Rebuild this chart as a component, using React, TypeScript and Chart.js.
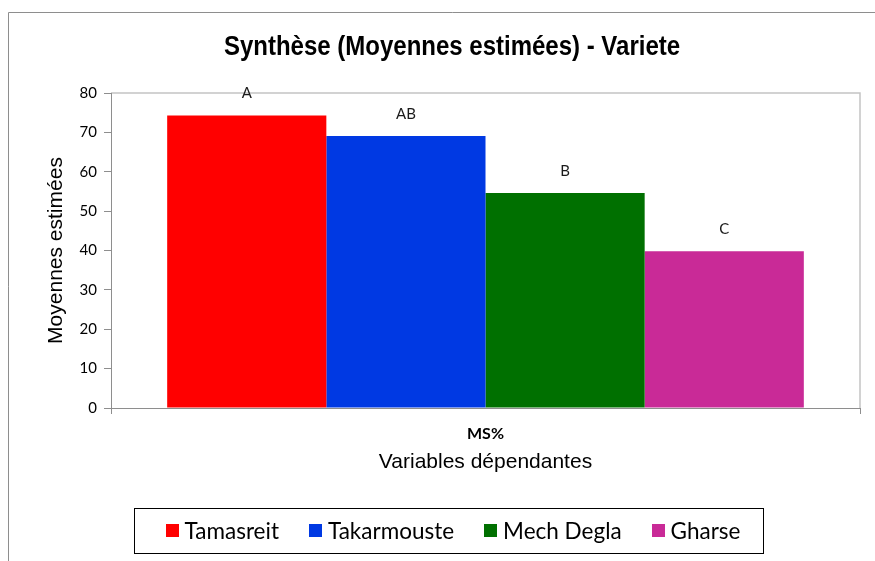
import React, { useEffect, useRef } from "react";
import { Chart, registerables } from "chart.js";

Chart.register(...registerables);

const chartTitle = "Synthèse (Moyennes estimées) - Variete";
const yAxisTitle = "Moyennes estimées";
const xAxisTitle = "Variables dépendantes";
const categories = ["MS%"];
const seriesNames = ["Tamasreit", "Takarmouste", "Mech Degla", "Gharse"];
const tamasreitValues = [74.3];
const takarmousteValues = [69.1];
const mechDeglaValues = [54.6];
const gharseValues = [39.8];
const groupLetters = ["A", "AB", "B", "C"];
const seriesColors = ["#FF0000", "#0039E3", "#007000", "#C92A97"];
const yTickValues = [0, 10, 20, 30, 40, 50, 60, 70, 80];

const SANS = "'Liberation Sans', Arial, sans-serif";
const CAL = "Lato, 'Open Sans', sans-serif";

const framePlugin = {
  id: "frame",
  beforeDraw(chart: any) {
    const { ctx, width, height, chartArea } = chart;
    ctx.save();
    ctx.fillStyle = "#ffffff";
    ctx.fillRect(0, 0, width, height);
    ctx.strokeStyle = "#8E8E8E";
    ctx.lineWidth = 1;
    ctx.beginPath();
    ctx.moveTo(0.5, height);
    ctx.lineTo(0.5, 0.5);
    ctx.lineTo(width, 0.5);
    ctx.stroke();
    // plot area top and right border
    ctx.strokeStyle = "#C4C4C4";
    ctx.lineWidth = 1.5;
    ctx.beginPath();
    ctx.moveTo(chartArea.left, chartArea.top);
    ctx.lineTo(chartArea.right, chartArea.top);
    ctx.lineTo(chartArea.right, chartArea.bottom);
    ctx.stroke();
    // title (slightly tall, like the reference)
    ctx.translate(width / 2, 35);
    ctx.scale(1, 1.16);
    ctx.font = `bold 24px ${SANS}`;
    ctx.fillStyle = "#000000";
    ctx.textAlign = "center";
    ctx.textBaseline = "middle";
    ctx.fillText(chartTitle, 0, 0);
    ctx.restore();
  },
};

const letterPlugin = {
  id: "letters",
  afterDatasetsDraw(chart: any) {
    const { ctx } = chart;
    ctx.save();
    ctx.font = `15px ${CAL}`;
    ctx.fillStyle = "#1A1A1A";
    ctx.textAlign = "center";
    ctx.textBaseline = "middle";
    chart.data.datasets.forEach((_ds: any, i: number) => {
      const meta = chart.getDatasetMeta(i);
      meta.data.forEach((bar: any) => {
        ctx.fillText(groupLetters[i], bar.x, bar.y - 22);
      });
    });
    ctx.restore();
  },
};

const legendPlugin = {
  id: "boxLegend",
  afterDraw(chart: any) {
    const { ctx } = chart;
    ctx.save();
    ctx.font = `22.5px ${CAL}`;
    const sq = 13;
    const gapText = 6;
    const gapItem = 30;
    const widths = seriesNames.map((n) => ctx.measureText(n).width);
    const content =
      widths.reduce((a, b) => a + b, 0) + seriesNames.length * (sq + gapText) + gapItem * (seriesNames.length - 1);
    const padL = 32;
    const padR = 22;
    const boxW = content + padL + padR;
    const cx = 440;
    const boxL = cx - boxW / 2;
    const boxT = 496;
    const boxH = 45;
    const cy = boxT + boxH / 2;
    ctx.strokeStyle = "#000000";
    ctx.lineWidth = 1;
    ctx.strokeRect(Math.round(boxL) + 0.5, boxT + 0.5, Math.round(boxW), boxH);
    let x = boxL + padL;
    ctx.textBaseline = "middle";
    ctx.textAlign = "left";
    seriesNames.forEach((n, i) => {
      ctx.fillStyle = seriesColors[i];
      ctx.fillRect(Math.round(x), Math.round(cy - sq / 2), sq, sq);
      x += sq + gapText;
      ctx.fillStyle = "#000000";
      ctx.fillText(n, x, cy + 1);
      x += widths[i] + gapItem;
    });
    ctx.restore();
  },
};

export default function App() {
  const ref = useRef<HTMLCanvasElement | null>(null);
  useEffect(() => {
    if (!ref.current) return;
    const values = [tamasreitValues, takarmousteValues, mechDeglaValues, gharseValues];
    const chart = new Chart(ref.current, {
      type: "bar",
      data: {
        labels: categories,
        datasets: seriesNames.map((name, i) => ({
          label: name,
          data: values[i],
          backgroundColor: seriesColors[i],
          borderWidth: 0,
          categoryPercentage: 0.85,
          barPercentage: 1.0,
        })),
      },
      options: {
        responsive: false,
        animation: false,
        devicePixelRatio: 1,
        layout: { padding: { top: 81, left: 0, right: 36, bottom: 73 } },
        plugins: {
          legend: { display: false },
          tooltip: { enabled: false },
          title: { display: false },
        },
        scales: {
          x: {
            type: "category",
            grid: {
              display: true,
              offset: true,
              drawOnChartArea: false,
              drawTicks: true,
              tickLength: 6,
              color: "#8E8E8E",
            },
            border: { display: true, color: "#8E8E8E", width: 1 },
            ticks: {
              color: "#000000",
              font: { family: CAL, size: 16, weight: "bold" },
              padding: 10,
            },
            title: {
              display: true,
              text: xAxisTitle,
              color: "#000000",
              font: { family: SANS, size: 21 },
              padding: { top: 0, bottom: 13 },
            },
            afterFit(scale: any) {
              scale.height = 80;
            },
          },
          y: {
            min: 0,
            max: 80,
            afterBuildTicks(scale: any) {
              scale.ticks = yTickValues.map((v) => ({ value: v }));
            },
            grid: {
              display: true,
              drawOnChartArea: false,
              drawTicks: true,
              tickLength: 7,
              color: "#8E8E8E",
            },
            border: { display: true, color: "#8E8E8E", width: 1 },
            ticks: {
              color: "#000000",
              font: { family: CAL, size: 15 },
              padding: 7,
            },
            title: {
              display: true,
              text: yAxisTitle,
              color: "#000000",
              font: { family: SANS, size: 21 },
              padding: { top: 36, bottom: 0 },
            },
            afterFit(scale: any) {
              scale.width = 103;
            },
          },
        },
      },
      plugins: [framePlugin, letterPlugin, legendPlugin],
    } as any);
    return () => chart.destroy();
  }, []);
  return (
    <div style={{ position: "absolute", left: 8, top: 12, width: 867, height: 549, overflow: "hidden" }}>
      <canvas ref={ref} width={888} height={549} style={{ display: "block" }} />
    </div>
  );
}
